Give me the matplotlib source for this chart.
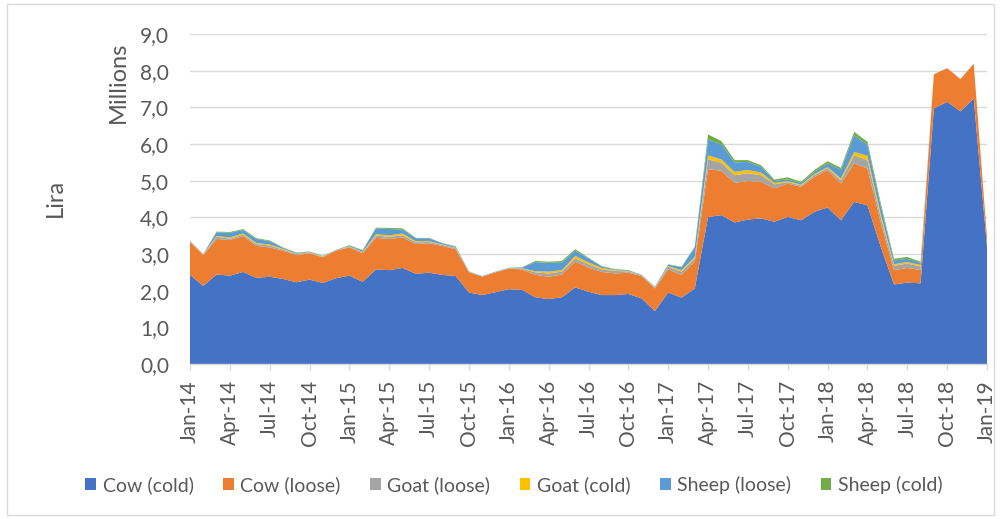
import matplotlib
matplotlib.use("Agg")
import matplotlib.pyplot as plt
from matplotlib.patches import Patch, Rectangle
import numpy as np

plt.rcParams['font.family'] = ['Lato', 'DejaVu Sans']

# Monthly values, Jan-14 .. Jan-19 (millions of lira)
cow_cold = [2.43, 2.13, 2.44, 2.41, 2.51, 2.35, 2.38, 2.32, 2.23, 2.30, 2.21, 2.34,
            2.41, 2.24, 2.58, 2.56, 2.62, 2.46, 2.49, 2.43, 2.40, 1.95, 1.88, 1.96,
            2.04, 2.02, 1.82, 1.77, 1.82, 2.09, 1.97, 1.88, 1.88, 1.91, 1.79, 1.44,
            1.95, 1.81, 2.06, 4.01, 4.06, 3.86, 3.94, 3.97, 3.88, 4.01, 3.92, 4.15,
            4.27, 3.92, 4.42, 4.33, 3.20, 2.17, 2.22, 2.20, 6.97, 7.15, 6.89, 7.24,
            3.20]
cow_loose = [0.90, 0.84, 0.97, 0.97, 0.98, 0.87, 0.80, 0.77, 0.74, 0.72, 0.70, 0.75,
             0.77, 0.78, 0.86, 0.85, 0.83, 0.81, 0.80, 0.79, 0.73, 0.55, 0.50, 0.54,
             0.56, 0.56, 0.61, 0.61, 0.62, 0.70, 0.66, 0.63, 0.59, 0.58, 0.61, 0.62,
             0.63, 0.62, 0.73, 1.30, 1.21, 1.08, 1.05, 1.00, 0.91, 0.91, 0.91, 0.95,
             1.02, 1.00, 1.05, 1.00, 0.66, 0.39, 0.40, 0.36, 0.93, 0.92, 0.88, 0.95,
             0.25]
goat_loose = [0.01, 0.01, 0.06, 0.04, 0.04, 0.05, 0.05, 0.03, 0.03, 0.02, 0.01, 0.01,
              0.02, 0.03, 0.06, 0.06, 0.06, 0.05, 0.04, 0.03, 0.03, 0.01, 0.01, 0.01,
              0.01, 0.02, 0.07, 0.09, 0.08, 0.09, 0.09, 0.07, 0.07, 0.03, 0.02, 0.02,
              0.07, 0.09, 0.09, 0.27, 0.22, 0.21, 0.21, 0.18, 0.11, 0.04, 0.04, 0.05,
              0.05, 0.09, 0.22, 0.23, 0.15, 0.12, 0.12, 0.10, 0.00, 0.00, 0.00, 0.00,
              0.00]
goat_cold = [0.01, 0.01, 0.02, 0.03, 0.03, 0.03, 0.03, 0.02, 0.01, 0.01, 0.01, 0.005,
             0.01, 0.01, 0.04, 0.04, 0.05, 0.03, 0.02, 0.01, 0.01, 0.005, 0.00, 0.00,
             0.005, 0.01, 0.03, 0.05, 0.04, 0.07, 0.05, 0.04, 0.02, 0.01, 0.005, 0.01,
             0.02, 0.04, 0.04, 0.11, 0.09, 0.09, 0.09, 0.07, 0.04, 0.03, 0.02, 0.03,
             0.03, 0.05, 0.09, 0.12, 0.08, 0.04, 0.04, 0.04, 0.00, 0.00, 0.00, 0.00,
             0.00]
sheep_loose = [0.01, 0.01, 0.10, 0.13, 0.09, 0.11, 0.09, 0.03, 0.02, 0.01, 0.01, 0.01,
               0.02, 0.04, 0.16, 0.17, 0.11, 0.08, 0.08, 0.03, 0.03, 0.01, 0.01, 0.01,
               0.01, 0.02, 0.25, 0.24, 0.21, 0.14, 0.11, 0.04, 0.02, 0.02, 0.01, 0.02,
               0.04, 0.08, 0.25, 0.43, 0.41, 0.26, 0.22, 0.16, 0.05, 0.05, 0.04, 0.06,
               0.10, 0.23, 0.46, 0.30, 0.22, 0.10, 0.09, 0.06, 0.00, 0.00, 0.00, 0.00,
               0.00]
sheep_cold = [0.00, 0.00, 0.02, 0.02, 0.03, 0.02, 0.02, 0.01, 0.01, 0.01, 0.01, 0.00,
              0.01, 0.01, 0.02, 0.03, 0.03, 0.01, 0.01, 0.01, 0.01, 0.00, 0.00, 0.00,
              0.00, 0.01, 0.03, 0.03, 0.04, 0.04, 0.02, 0.01, 0.01, 0.01, 0.00, 0.00,
              0.01, 0.01, 0.03, 0.14, 0.09, 0.06, 0.05, 0.04, 0.04, 0.05, 0.04, 0.05,
              0.06, 0.06, 0.09, 0.08, 0.08, 0.05, 0.05, 0.03, 0.00, 0.00, 0.00, 0.00,
              0.00]

series_names = ["Cow (cold)", "Cow (loose)", "Goat (loose)", "Goat (cold)",
                "Sheep (loose)", "Sheep (cold)"]
colors = ["#4472C4", "#ED7D31", "#A5A5A5", "#FFC000", "#5B9BD5", "#70AD47"]

tick_labels = ["Jan-14", "Apr-14", "Jul-14", "Oct-14", "Jan-15", "Apr-15", "Jul-15",
               "Oct-15", "Jan-16", "Apr-16", "Jul-16", "Oct-16", "Jan-17", "Apr-17",
               "Jul-17", "Oct-17", "Jan-18", "Apr-18", "Jul-18", "Oct-18", "Jan-19"]
y_ticks = [0, 1, 2, 3, 4, 5, 6, 7, 8, 9]

W, H = 1001, 519
fig = plt.figure(figsize=(W / 100, H / 100), dpi=100)
ax = fig.add_axes([190 / W, 1 - 364 / H, (987 - 190) / W, (364 - 34) / H])

x = np.arange(len(cow_cold))
data = [cow_cold, cow_loose, goat_loose, goat_cold, sheep_loose, sheep_cold]
ax.stackplot(x, *data, colors=colors, linewidth=0, zorder=3)

ax.set_xlim(0, len(x) - 1)
ax.set_ylim(0, 9)
ax.set_yticks(y_ticks)
ax.set_yticklabels([f"{v:.1f}".replace(".", ",") for v in y_ticks])
ax.set_xticks(np.arange(0, len(x), 3))
ax.set_xticklabels(tick_labels, rotation=90)

grey_txt = "#595959"
ax.grid(axis="y", color="#D9D9D9", linewidth=1.0, zorder=0)
ax.set_axisbelow(True)
for s in ["top", "right", "left"]:
    ax.spines[s].set_visible(False)
ax.spines["bottom"].set_color("#D9D9D9")
ax.spines["bottom"].set_linewidth(1.0)
ax.spines["bottom"].set_zorder(4)
ax.tick_params(axis="y", length=0, pad=15, labelsize=15, labelcolor=grey_txt)
ax.tick_params(axis="x", length=4.5, width=1, color="#D9D9D9", pad=7,
               labelsize=15, labelcolor=grey_txt)

fig.text(118 / W, 1 - 82 / H, "Millions", rotation=90, ha="center", va="center",
         fontsize=17, color=grey_txt)
fig.text(55 / W, 1 - 198 / H, "Lira", rotation=90, ha="center", va="center",
         fontsize=17, color=grey_txt)

handles = [Patch(facecolor=c, edgecolor="none") for c in colors]
fig.legend(handles, series_names, loc="center", bbox_to_anchor=(514 / W, 1 - 485 / H),
           ncol=6, frameon=False, fontsize=14, labelcolor=grey_txt,
           handlelength=0.55, handleheight=0.55, handletextpad=0.35, columnspacing=1.5)

fig.add_artist(Rectangle((7 / W, 4 / H), (994 - 7) / W, (515 - 4) / H,
                         transform=fig.transFigure, fill=False,
                         edgecolor="#D9D9D9", linewidth=1.0))

fig.savefig("out.png", dpi=100)
